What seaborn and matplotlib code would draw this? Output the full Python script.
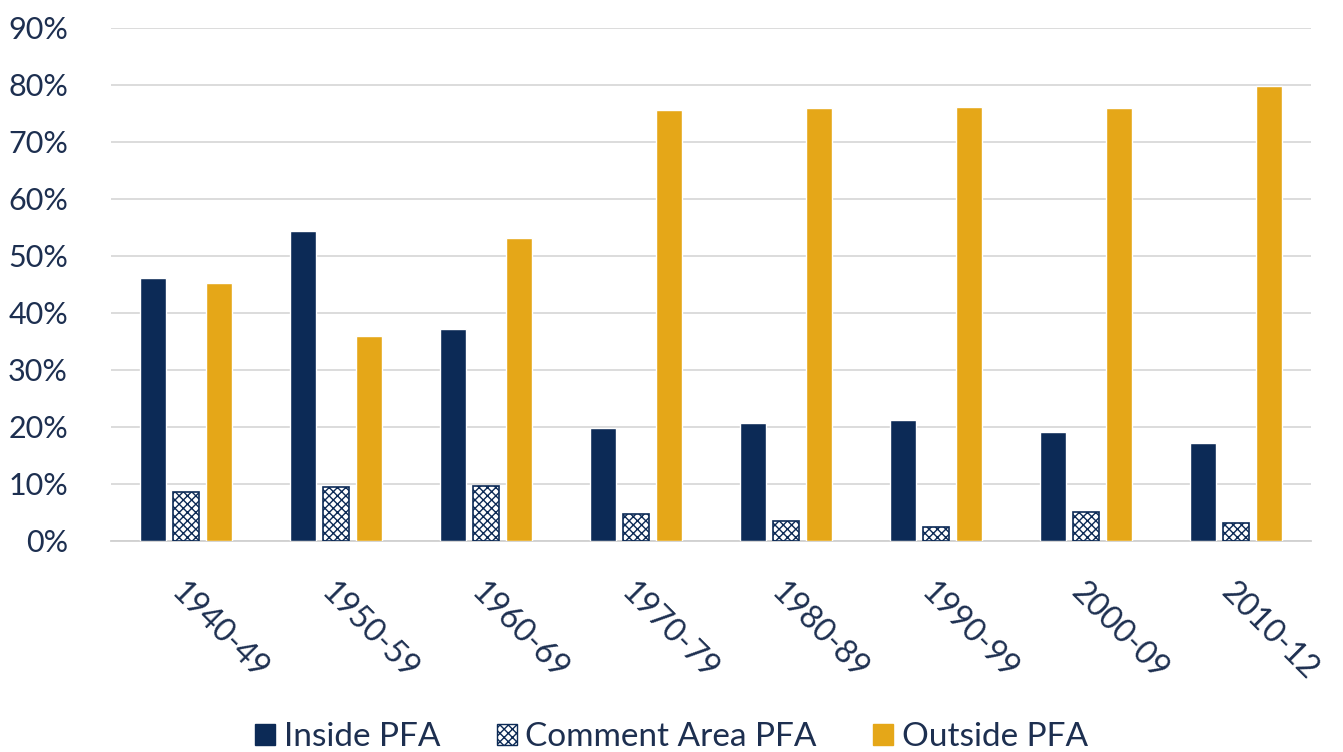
import pandas as pd
import matplotlib.pyplot as plt
import seaborn as sns
from matplotlib.patches import Patch
from matplotlib.ticker import FuncFormatter

decades = ['1940-49', '1950-59', '1960-69', '1970-79', '1980-89', '1990-99', '2000-09', '2010-12']
inside_pfa = [46.1, 54.4, 37.2, 19.8, 20.7, 21.2, 19.1, 17.2]
comment_pfa = [8.6, 9.5, 9.6, 4.7, 3.5, 2.5, 5.1, 3.2]
outside_pfa = [45.3, 36.0, 53.2, 75.6, 76.0, 76.1, 76.0, 79.8]
series = ['Inside PFA', 'Comment Area PFA', 'Outside PFA']

navy = '#0c2a56'
gold = '#e5a718'
txt = '#1d2f50'

df = pd.DataFrame({'decade': decades * 3,
                   'share': inside_pfa + comment_pfa + outside_pfa,
                   'where': [s for s in series for _ in decades]})

sns.set_style('white')
plt.rcParams['font.family'] = ['Lato', 'DejaVu Sans']
plt.rcParams['hatch.linewidth'] = 1.0

fig = plt.figure(figsize=(13.43, 7.52), dpi=100)
ax = fig.add_axes([0.0827, 0.2806, 0.8936, 0.6824])

sns.barplot(data=df, x='decade', y='share', hue='where', hue_order=series,
            palette=[navy, 'white', gold], width=0.66, gap=0.2,
            saturation=1, ax=ax, zorder=3)

# crosshatch for the comment-area bars
for bar in ax.containers[1]:
    bar.set_hatch('xxxx')
    bar.set_edgecolor(navy)
    bar.set_linewidth(1.2)

ax.set_ylim(0, 90)
ax.set_xlim(-0.5, 7.5)
ax.set_yticks(range(0, 91, 10))
ax.yaxis.set_major_formatter(FuncFormatter(lambda v, p: f'{int(v)}%'))
ax.grid(axis='y', color='#d9d9d9', linewidth=1.3, zorder=0)
ax.set_xlabel('')
ax.set_ylabel('')
for s in ['top', 'right', 'left']:
    ax.spines[s].set_visible(False)
ax.spines['bottom'].set_color('#d0d0d0')
ax.spines['bottom'].set_linewidth(1.3)
ax.tick_params(axis='y', length=0, pad=31, labelsize=22, labelcolor=txt)
ax.tick_params(axis='x', length=0, pad=26, labelsize=23, labelcolor=txt)
for lab in ax.get_xticklabels():
    lab.set_rotation(-45)
    lab.set_ha('left')
    lab.set_va('top')
    lab.set_rotation_mode('anchor')

ax.get_legend().remove()
handles = [Patch(facecolor=navy, edgecolor=navy),
           Patch(facecolor='white', edgecolor=navy, hatch='xxxx'),
           Patch(facecolor=gold, edgecolor=gold)]
fig.legend(handles, series, loc='lower center', bbox_to_anchor=(0.5, -0.04),
           ncol=3, frameon=False, fontsize=24, labelcolor=txt,
           handlelength=0.6, handleheight=0.6, handletextpad=0.25,
           columnspacing=1.7)

fig.savefig('out.png', dpi=100)
